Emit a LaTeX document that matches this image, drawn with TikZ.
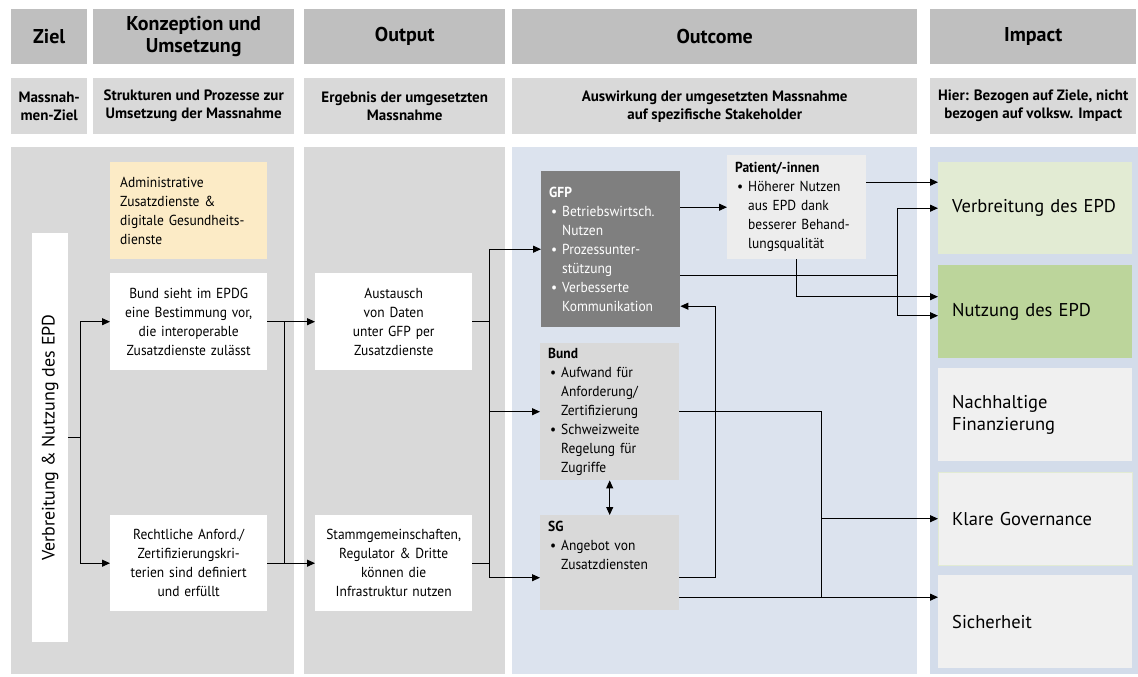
\documentclass[tikz,border=0pt]{standalone}
\usepackage{fontspec}
\setmainfont{PT Sans}
\newfontfamily\bodyfont{PT Sans}[FakeStretch=0.93]
\usetikzlibrary{arrows.meta,positioning}

\definecolor{headgray}{HTML}{BFBFBF}
\definecolor{subgray}{HTML}{D9D9D9}
\definecolor{outcomebg}{HTML}{DCE3EE}
\definecolor{impactbg}{HTML}{D3DCEA}
\definecolor{zusatzyellow}{HTML}{FCEBC6}
\definecolor{gfpgray}{HTML}{7F7F7F}
\definecolor{patgray}{HTML}{EDEDED}
\definecolor{verbgreen}{HTML}{E2EBD3}
\definecolor{nutzgreen}{HTML}{BCD59B}
\definecolor{impgray}{HTML}{F0F0F0}

\newcommand{\itemdot}{\hspace*{2pt}\makebox[11pt][l]{\textbullet}}
\newcommand{\itemgap}{\hspace*{13pt}}

\begin{document}
\begin{tikzpicture}[x=1pt, y=-1pt, >={Triangle[length=8pt,width=7pt]},
  font=\bodyfont\fontsize{14.5pt}{19pt}\selectfont,
  head/.style={fill=headgray, inner sep=0pt, anchor=north west, minimum height=55pt, align=center, font=\normalfont\fontsize{20pt}{22pt}\selectfont\bfseries},
  subhead/.style={fill=subgray, inner sep=0pt, anchor=north west, minimum height=56pt, align=center, font=\normalfont\fontsize{15pt}{18pt}\selectfont\bfseries},
  measure/.style={fill=white, inner sep=0pt, anchor=north west, minimum height=97pt, text width=157pt, align=center},
  stake/.style={inner xsep=8pt, inner ysep=2pt, anchor=north west, text width=123pt, align=left},
  impact/.style={fill=impgray, inner xsep=14pt, inner ysep=0pt, anchor=north west, minimum height=93pt, text width=166pt, align=left, font=\normalfont\fontsize{18.5pt}{22pt}\selectfont},
  conn/.style={line width=1pt}]
\useasboundingbox (0,0) rectangle (1138,677);

% header rows
\node (zielh) [head, minimum width=76pt] at (11,9) {Ziel};
\node (konzh) [head, minimum width=201pt] at (93,9) {Konzeption und\\Umsetzung};
\node (outh) [head, minimum width=201pt] at (304,9) {Output};
\node (outch) [head, minimum width=405pt] at (512,9) {Outcome};
\node (imph) [head, minimum width=206pt] at (930,9) {Impact};

\node (zields) [subhead, minimum width=76pt] at (11,78) {Massnah-\\men-Ziel};
\node (konzds) [subhead, minimum width=201pt] at (93,78) {Strukturen und Prozesse zur\\Umsetzung der Massnahme};
\node (outds) [subhead, minimum width=201pt] at (304,78) {Ergebnis der umgesetzten\\Massnahme};
\node (outcds) [subhead, minimum width=405pt] at (512,78) {Auswirkung der umgesetzten Massnahme\\auf spezifische Stakeholder};
\node (impds) [subhead, minimum width=206pt] at (930,78) {Hier: Bezogen auf Ziele, nicht\\bezogen auf volksw. Impact};

% columns
\fill[subgray] (11,147) rectangle (294,674);
\fill[subgray] (304,147) rectangle (505,674);
\fill[outcomebg] (512,147) rectangle (917,674);
\fill[impactbg] (930,147) rectangle (1138,674);

% Ziel and Konzeption
\node (zielv) [fill=white, inner sep=0pt, anchor=north west, minimum width=36pt, minimum height=409pt] at (32,233) {\rotatebox{90}{\normalfont\fontsize{18pt}{20pt}\selectfont Verbreitung \& Nutzung des EPD}};
\node (zusatz) [measure, fill=zusatzyellow, text width=137pt, inner xsep=10pt, align=left] at (110,162) {Administrative\\Zusatzdienste \&\\digitale Gesundheits-\\dienste};
\node (kbund) [measure] at (110,273) {Bund sieht im EPDG\\eine Bestimmung vor,\\die interoperable\\Zusatzdienste zulässt};
\node (recht) [measure, minimum height=96pt] at (110,515) {Rechtliche Anford./\\Zertifizierungskri-\\terien sind definiert\\und erfüllt};

% Output
\node (austausch) [measure] at (315,273) {Austausch\\von Daten\\unter GFP per\\Zusatzdienste};
\node (stamm) [measure, minimum height=96pt] at (315,515) {Stammgemeinschaften,\\Regulator \& Dritte\\können die\\Infrastruktur nutzen};

% Outcome
\node (gfp) [stake, fill=gfpgray, text=white, minimum height=156pt] at (541,171) {\textbf{GFP}\\\itemdot Betriebswirtsch.\\\itemgap Nutzen\\\itemdot Prozessunter-\\\itemgap stützung\\\itemdot Verbesserte\\\itemgap Kommunikation};
\node (patient) [stake, fill=patgray, minimum height=104pt] at (727,155) {\textbf{Patient/-innen}\\\itemdot Höherer Nutzen\\\itemgap aus EPD dank\\\itemgap besserer Behand-\\\itemgap lungsqualität};
\node (bund) [stake, fill=subgray, minimum height=137pt] at (540,343) {\textbf{Bund}\\\itemdot Aufwand für\\\itemgap Anforderung/\\\itemgap Zertifizierung\\\itemdot Schweizweite\\\itemgap Regelung für\\\itemgap Zugriffe};
\node (sg) [stake, fill=subgray, minimum height=95pt] at (540,515) {\parbox[t][84pt][t]{123pt}{\textbf{SG}\\\itemdot Angebot von\\\itemgap Zusatzdiensten}};

% Impact
\node (verb) [impact, fill=verbgreen, minimum height=92pt] at (938,162) {Verbreitung des EPD};
\node (nutz) [impact, fill=nutzgreen] at (938,265) {Nutzung des EPD};
\node (nach) [impact] at (938,368) {Nachhaltige\\Finanzierung};
\node (gov) [impact, draw=verbgreen] at (938,472) {Klare Governance};
\node (sich) [impact] at (938,575) {Sicherheit};

\coordinate (o0) at (284,0);
\coordinate (o1) at (489,0);
\coordinate (o2) at (897,0);
\coordinate (o3) at (715,0);
\coordinate (o4) at (821,0);

\draw[conn,->] (zielv.east) -- ++(12,0) |- (kbund.west);
\draw[conn,->] (zielv.east) ++(12,0) |- (recht.west);
\draw[conn,->] (kbund) -- (austausch);
\draw[conn,->] (recht) -- (stamm);
\draw[conn] (kbund.east -| o0) -- (recht.east -| o0);

\draw[conn] (austausch.east) -- (austausch.east -| o1);
\draw[conn] (stamm.east) -- (stamm.east -| o1);
\draw[conn] (gfp.west -| o1) -- ([yshift=-15pt]sg.west -| o1);
\draw[conn,->] (gfp.west -| o1) -- (gfp.west);
\draw[conn,->] (bund.west -| o1) -- (bund.west);
\draw[conn,->] ([yshift=-15pt]sg.west -| o1) -- ([yshift=-15pt]sg.west);

\draw[conn,->] (gfp.east |- patient.west) -- (patient.west);
\draw[conn,->] ([yshift=25pt]patient.east) -- ([yshift=25pt]patient.east -| verb.west);
\draw[conn] ([yshift=-26pt]gfp.east) -- ([yshift=-26pt]gfp.east -| o2);
\draw[conn] (o2 |- verb.west) -- ([yshift=-4pt]nutz.west -| o2);
\draw[conn,->] (o2 |- verb.west) -- (verb.west);
\draw[conn,->] ([yshift=-4pt]nutz.west -| o2) -- ([yshift=-4pt]nutz.west);
\draw[conn,->] (patient.south) |- ([yshift=15pt]nutz.west);
\draw[conn,->] ([yshift=-15pt]sg.east) -| ([yshift=-57pt]gfp.east -| o3) -- ([yshift=-57pt]gfp.east);
\draw[conn] (bund.east) -| ([yshift=-34.5pt]sg.east -| o4);
\draw[conn,->] (o4 |- gov.west) -- (gov.west);
\draw[conn,->] ([yshift=-34.5pt]sg.east) -- ([yshift=-34.5pt]sg.east -| sich.west);
\draw[conn,<->] (bund) -- (sg);
\end{tikzpicture}
\end{document}
